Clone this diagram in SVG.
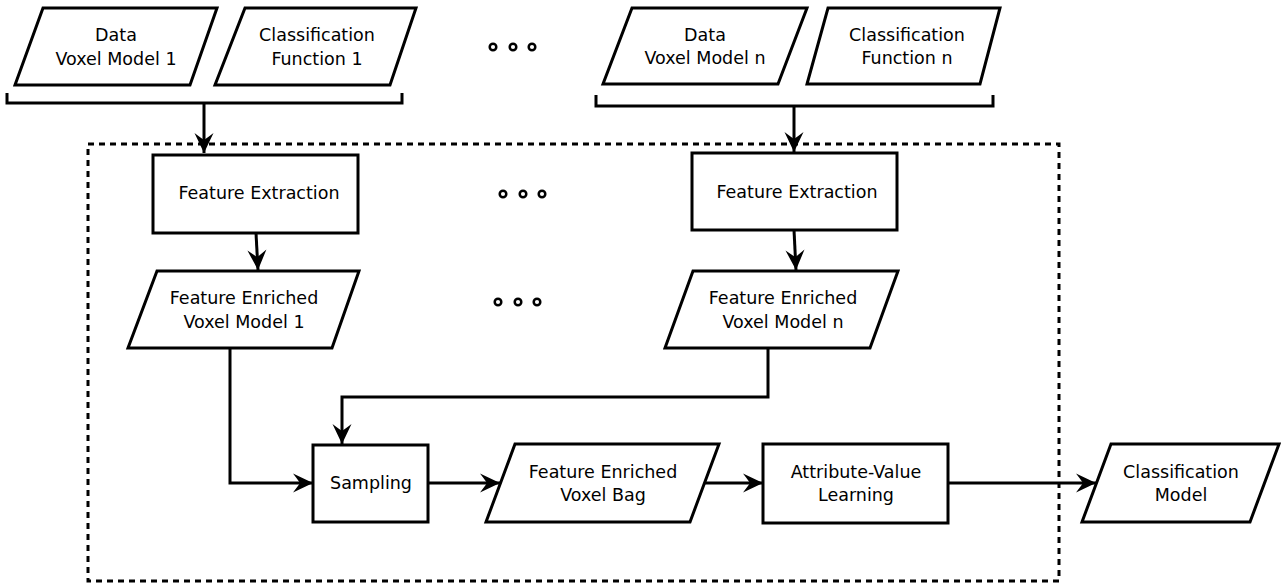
<svg xmlns="http://www.w3.org/2000/svg" width="1281" height="584" viewBox="0 0 1281 584">
<defs>
<marker id="arr" markerUnits="userSpaceOnUse" markerWidth="24" markerHeight="24" viewBox="-22 -12 24 24" refX="0" refY="0" orient="auto" overflow="visible">
<path d="M0,0 L-20,-9.5 Q-15,-3 -13,0 Q-15,3 -20,9.5 Z" fill="#000"/>
</marker>
<style>
.shape{fill:#fff;stroke:#000;stroke-width:3;stroke-linejoin:miter}
.con{fill:none;stroke:#000;stroke-width:3}
.dot{fill:#fff;stroke:#000;stroke-width:2.5}
text{font-family:"DejaVu Sans","Liberation Sans",sans-serif;font-size:17.5px;fill:#000;text-anchor:middle}
</style>
</defs>
<rect id="frame" x="88" y="144" width="971" height="437" fill="none" stroke="#000" stroke-width="3" stroke-dasharray="6,5"/>
<g id="data1"><polygon class="shape" points="43,8 217,8 190,85 15,85"/><text x="116" y="41">Data</text><text x="116" y="65">Voxel Model 1</text></g>
<g id="cf1"><polygon class="shape" points="245,8 416,8 390,85 215,85"/><text x="317" y="41">Classification</text><text x="317" y="65">Function 1</text></g>
<g id="datan"><polygon class="shape" points="632,8 807,8 778,84 603,84"/><text x="705" y="41">Data</text><text x="705" y="64">Voxel Model n</text></g>
<g id="cfn"><polygon class="shape" points="828,8 1000,8 980,84 807,84"/><text x="907" y="41">Classification</text><text x="907" y="64">Function n</text></g>
<g id="fe1"><rect class="shape" x="153" y="155" width="205" height="78"/><text x="259" y="199">Feature Extraction</text></g>
<g id="fen"><rect class="shape" x="692" y="153" width="205" height="77"/><text x="797" y="198">Feature Extraction</text></g>
<g id="fevm1"><polygon class="shape" points="157,271 359,271 332,348 128,348"/><text x="244" y="304">Feature Enriched</text><text x="244" y="328">Voxel Model 1</text></g>
<g id="fevmn"><polygon class="shape" points="693,271 898,271 870,348 665,348"/><text x="783" y="304">Feature Enriched</text><text x="783" y="328">Voxel Model n</text></g>
<g id="sampling"><rect class="shape" x="313" y="445" width="115" height="77"/><text x="371" y="489">Sampling</text></g>
<g id="fevb"><polygon class="shape" points="515,444 719,444 690,522 486,522"/><text x="603" y="478">Feature Enriched</text><text x="603" y="501">Voxel Bag</text></g>
<g id="avl"><rect class="shape" x="763" y="444" width="185" height="79"/><text x="856" y="478">Attribute-Value</text><text x="856" y="501">Learning</text></g>
<g id="cm"><polygon class="shape" points="1111,444 1279,444 1250,522 1082,522"/><text x="1181" y="478">Classification</text><text x="1181" y="501">Model</text></g>
<g id="dots">
<circle class="dot" cx="493" cy="47" r="3.3"/><circle class="dot" cx="513" cy="47" r="3.3"/><circle class="dot" cx="532" cy="47" r="3.3"/>
<circle class="dot" cx="503" cy="194" r="3.3"/><circle class="dot" cx="523" cy="194" r="3.3"/><circle class="dot" cx="542" cy="194" r="3.3"/>
<circle class="dot" cx="498" cy="302" r="3.3"/><circle class="dot" cx="518" cy="302" r="3.3"/><circle class="dot" cx="537" cy="302" r="3.3"/>
</g>
<g id="connectors">
<path class="con" d="M7,93 V103 H402 V93"/>
<path class="con" d="M596,95 V106 H993 V95"/>
<path class="con" d="M204,103 V153" marker-end="url(#arr)"/>
<path class="con" d="M794,106 V152" marker-end="url(#arr)"/>
<path class="con" d="M256,233 L258,270" marker-end="url(#arr)"/>
<path class="con" d="M794,230 L796,270" marker-end="url(#arr)"/>
<path class="con" d="M230,348 V483 H313" marker-end="url(#arr)"/>
<path class="con" d="M768,348 V397 H342 V444" marker-end="url(#arr)"/>
<path class="con" d="M428,483 H500" marker-end="url(#arr)"/>
<path class="con" d="M705,483 H763" marker-end="url(#arr)"/>
<path class="con" d="M948,483 H1096" marker-end="url(#arr)"/>
</g>
</svg>
